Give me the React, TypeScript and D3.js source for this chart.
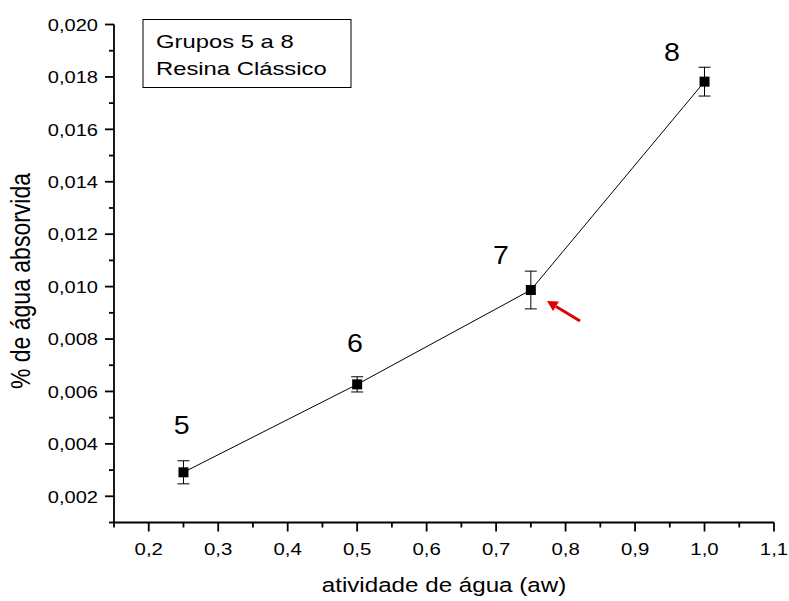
import * as d3 from 'd3';

// atividade de água (aw) vs % absorbed water, groups 5 to 8
const groups = ['5', '6', '7', '8'];
const aw = [0.25, 0.5, 0.75, 1.0];
const absorbed = [0.002915, 0.00627, 0.00987, 0.01782];
const errors = [0.00044, 0.00029, 0.00072, 0.00055];
// where the group numbers sit, in data units
const labelAw = [0.2475, 0.4969, 0.707, 0.953];
const labelAbs = [0.004376, 0.007517, 0.010862, 0.018619];

const xMajor = [0.2, 0.3, 0.4, 0.5, 0.6, 0.7, 0.8, 0.9, 1.0, 1.1];
const xMinor = [0.15, 0.25, 0.35, 0.45, 0.55, 0.65, 0.75, 0.85, 0.95, 1.05];
const yMajor = [0.002, 0.004, 0.006, 0.008, 0.01, 0.012, 0.014, 0.016, 0.018, 0.02];
const yMinor = [0.001, 0.003, 0.005, 0.007, 0.009, 0.011, 0.013, 0.015, 0.017, 0.019];

const legendLines = ['Grupos 5 a 8', 'Resina Clássico'];

const W = 789;
const H = 601;
const font = '"Liberation Sans", Arial, Helvetica, sans-serif';

// text that is a bit wider than plain Arial
function WideText({ x, y, sx, size, anchor, children }: any) {
  return (
    <text
      transform={`translate(${x},${y}) scale(${sx},1)`}
      fontSize={size}
      textAnchor={anchor || 'start'}
    >
      {children}
    </text>
  );
}

export default function App() {
  const x = d3.scaleLinear().domain([0.15, 1.1]).range([114, 774]);
  const y = d3.scaleLinear().domain([0.001, 0.02]).range([522.5, 24.5]);

  const fmtX = (v: number) => d3.format('.1f')(v).replace('.', ',');
  const fmtY = (v: number) => d3.format('.3f')(v).replace('.', ',');

  const line = d3
    .line<number>()
    .x((_, i) => x(aw[i]))
    .y((d) => y(d));

  const [x0, x1] = x.range();
  const [y0, y1] = y.range();

  return (
    <svg
      width={W}
      height={H}
      style={{ position: 'absolute', left: 0, top: 0, background: '#fff' }}
      fontFamily={font}
    >
      {/* axes */}
      <g stroke="#000" strokeWidth={1.8} fill="none">
        <line x1={x0} x2={x0} y1={y0} y2={y1} />
        <line x1={x0} x2={x1} y1={y0} y2={y0} />
        {xMajor.map((v) => (
          <line key={'xM' + v} x1={x(v)} x2={x(v)} y1={y0} y2={y0 + 9} />
        ))}
        {xMinor.map((v) => (
          <line key={'xm' + v} x1={x(v)} x2={x(v)} y1={y0} y2={y0 + 5} />
        ))}
        {yMajor.map((v) => (
          <line key={'yM' + v} x1={x0} x2={x0 - 9} y1={y(v)} y2={y(v)} />
        ))}
        {yMinor.map((v) => (
          <line key={'ym' + v} x1={x0} x2={x0 - 5} y1={y(v)} y2={y(v)} />
        ))}
      </g>

      {xMajor.map((v) => (
        <WideText key={'xl' + v} x={x(v)} y={y0 + 32.5} sx={1.2} size={17} anchor="middle">
          {fmtX(v)}
        </WideText>
      ))}
      {yMajor.map((v) => (
        <WideText key={'yl' + v} x={x0 - 16} y={y(v) + 6.3} sx={1.18} size={17} anchor="end">
          {fmtY(v)}
        </WideText>
      ))}

      <WideText x={(x0 + x1) / 2 - 0} y={592} sx={1.24} size={19.5} anchor="middle">
        atividade de água (aw)
      </WideText>
      <text
        transform={`translate(30,281) rotate(-90) scale(1,1.2)`}
        fontSize={23}
        textAnchor="middle"
      >
        % de água absorvida
      </text>

      {/* series */}
      <path d={line(absorbed) ?? ''} fill="none" stroke="#000" strokeWidth={1} />
      <g stroke="#000" strokeWidth={1}>
        {absorbed.map((v, i) => (
          <g key={'e' + i}>
            <line x1={x(aw[i])} x2={x(aw[i])} y1={y(v + errors[i])} y2={y(v - errors[i])} />
            <line x1={x(aw[i]) - 6} x2={x(aw[i]) + 6} y1={y(v + errors[i])} y2={y(v + errors[i])} />
            <line x1={x(aw[i]) - 6} x2={x(aw[i]) + 6} y1={y(v - errors[i])} y2={y(v - errors[i])} />
          </g>
        ))}
      </g>
      {absorbed.map((v, i) => (
        <rect key={'p' + i} x={x(aw[i]) - 5} y={y(v) - 5} width={10} height={10} fill="#000" />
      ))}
      {groups.map((g, i) => (
        <WideText key={'g' + i} x={x(labelAw[i])} y={y(labelAbs[i])} sx={1.12} size={25.5} anchor="middle">
          {g}
        </WideText>
      ))}

      {/* legend box */}
      <rect x={143} y={19.5} width={208} height={68} fill="#fff" stroke="#000" strokeWidth={1} />
      {legendLines.map((t, i) => (
        <WideText key={t} x={156} y={48.3 + i * 26.7} sx={1.28} size={18.6}>
          {t}
        </WideText>
      ))}

      {/* red arrow pointing at group 7 */}
      <line x1={580} y1={321} x2={556} y2={306.5} stroke="#e00000" strokeWidth={3} />
      <path d="M547,301 L559,301.5 L553,311 Z" fill="#e00000" />
    </svg>
  );
}
